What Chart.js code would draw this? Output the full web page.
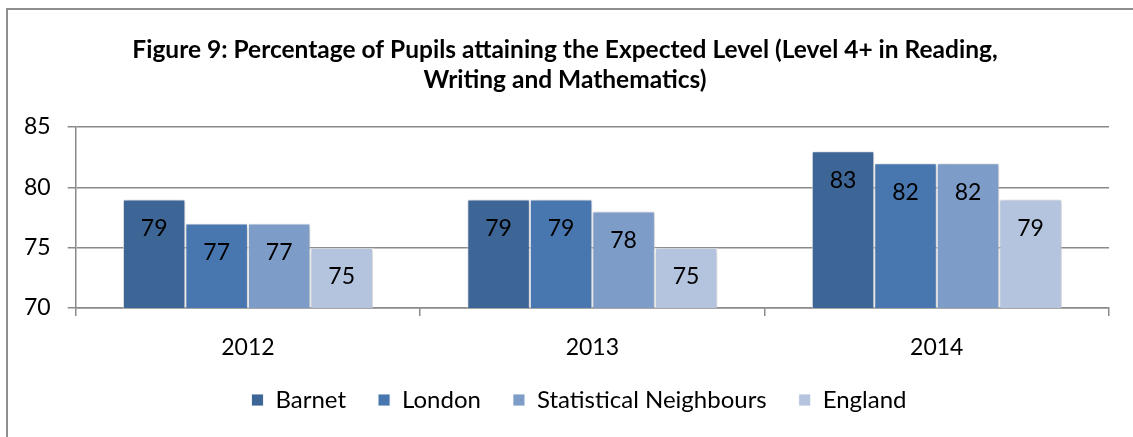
<!DOCTYPE html>
<html>
<head>
<meta charset="utf-8">
<title>Figure 9</title>
<script src="https://cdn.jsdelivr.net/npm/chart.js@4"></script>
<style>
  html, body { margin: 0; padding: 0; background: #fff; overflow: hidden; }
  #wrap { position: relative; width: 1133px; height: 437px; }
  #frame {
    position: absolute; left: 6px; top: 8px; width: 1200px; height: 500px;
    border: 2px solid #8e8e8e; box-sizing: border-box; pointer-events: none;
  }
  canvas { position: absolute; left: 0; top: 0; }
</style>
</head>
<body>
<div id="wrap">
  <canvas id="kpiChart" width="1133" height="437"></canvas>
  <div id="frame"></div>
</div>
<script>
const years = ['2012', '2013', '2014'];
const barnet = [79, 79, 83];
const london = [77, 79, 82];
const statNeighbours = [77, 78, 82];
const england = [75, 75, 79];
const yTicks = [70, 75, 80, 85];

const FONT = 'Lato, "Liberation Sans", sans-serif';

// soft drop shadow under the bars
const barShadow = {
    id: 'barShadow',
    beforeDatasetsDraw(chart) {
        const ctx = chart.ctx;
        ctx.save();
        ctx.shadowColor = 'rgba(0,0,0,0.28)';
        ctx.shadowBlur = 5;
        ctx.shadowOffsetX = 1;
        ctx.shadowOffsetY = 1;
    },
    afterDatasetsDraw(chart) {
        chart.ctx.restore();
    }
};

// value written inside the top of each bar
const barValues = {
    id: 'barValues',
    afterDatasetsDraw(chart) {
        const ctx = chart.ctx;
        ctx.save();
        ctx.font = '23px ' + FONT;
        ctx.fillStyle = '#000';
        ctx.textAlign = 'center';
        ctx.textBaseline = 'middle';
        chart.data.datasets.forEach((ds, i) => {
            chart.getDatasetMeta(i).data.forEach((bar, j) => {
                ctx.fillText(String(ds.data[j]), bar.x, bar.y + 29);
            });
        });
        ctx.restore();
    }
};

// legend keeps wide gaps between items but only a short strip of height;
// title and legend sit a little right of the plot centre
const legendHeight = {
    id: 'legendHeight',
    beforeInit(chart) {
        const fit = chart.legend.fit;
        chart.legend.fit = function () {
            fit.call(this);
            this.height = 66;
        };
    },
    afterLayout(chart) {
        chart.legend.left += 21;
        chart.legend.right += 21;
        chart.titleBlock.left += 7;
        chart.titleBlock.right += 7;
    }
};

const ctx = document.getElementById('kpiChart').getContext('2d');
const kpiChart = new Chart(ctx, {
    type: 'bar',
    data: {
        labels: years,
        datasets: [
            { label: 'Barnet', data: barnet, backgroundColor: '#3d6595' },
            { label: 'London', data: london, backgroundColor: '#4877b0' },
            { label: 'Statistical Neighbours', data: statNeighbours, backgroundColor: '#7e9cc8' },
            { label: 'England', data: england, backgroundColor: '#b4c4df' }
        ].map(d => Object.assign(d, {
            borderColor: 'rgba(255,255,255,0.85)',
            borderWidth: 1,
            barPercentage: 1,
            categoryPercentage: 0.726
        }))
    },
    options: {
        responsive: false,
        animation: false,
        layout: { padding: { left: 7, right: 24, top: 0, bottom: 15 } },
        scales: {
            x: {
                afterFit(scale) { scale.height = 48; },
                grid: {
                    drawOnChartArea: false,
                    drawTicks: true,
                    tickLength: 8,
                    color: '#8a8a8a',
                    lineWidth: 1.5
                },
                border: { color: '#8a8a8a', width: 1.5 },
                ticks: { color: '#000', font: { family: FONT, size: 23, lineHeight: 1 }, padding: 20 }
            },
            y: {
                min: 70,
                max: 85,
                afterBuildTicks(axis) {
                    axis.ticks = yTicks.map(v => ({ value: v }));
                },
                grid: { color: '#8a8a8a', lineWidth: 1.5, tickLength: 8 },
                border: { color: '#8a8a8a', width: 1.5 },
                ticks: { color: '#000', font: { family: FONT, size: 23 }, padding: 17 }
            }
        },
        plugins: {
            title: {
                display: true,
                text: ['Figure 9: Percentage of Pupils attaining the Expected Level (Level 4+ in Reading,',
                       'Writing and Mathematics)'],
                color: '#000',
                font: { family: FONT, size: 24.5, weight: 'bold', lineHeight: 1.225 },
                padding: { top: 35, bottom: 32 }
            },
            legend: {
                position: 'bottom',
                labels: {
                    color: '#000',
                    font: { family: FONT, size: 24 },
                    boxWidth: 12,
                    boxHeight: 12,
                    padding: 32
                }
            },
            tooltip: { enabled: false }
        }
    },
    plugins: [barShadow, barValues, legendHeight]
});
</script>
</body>
</html>
